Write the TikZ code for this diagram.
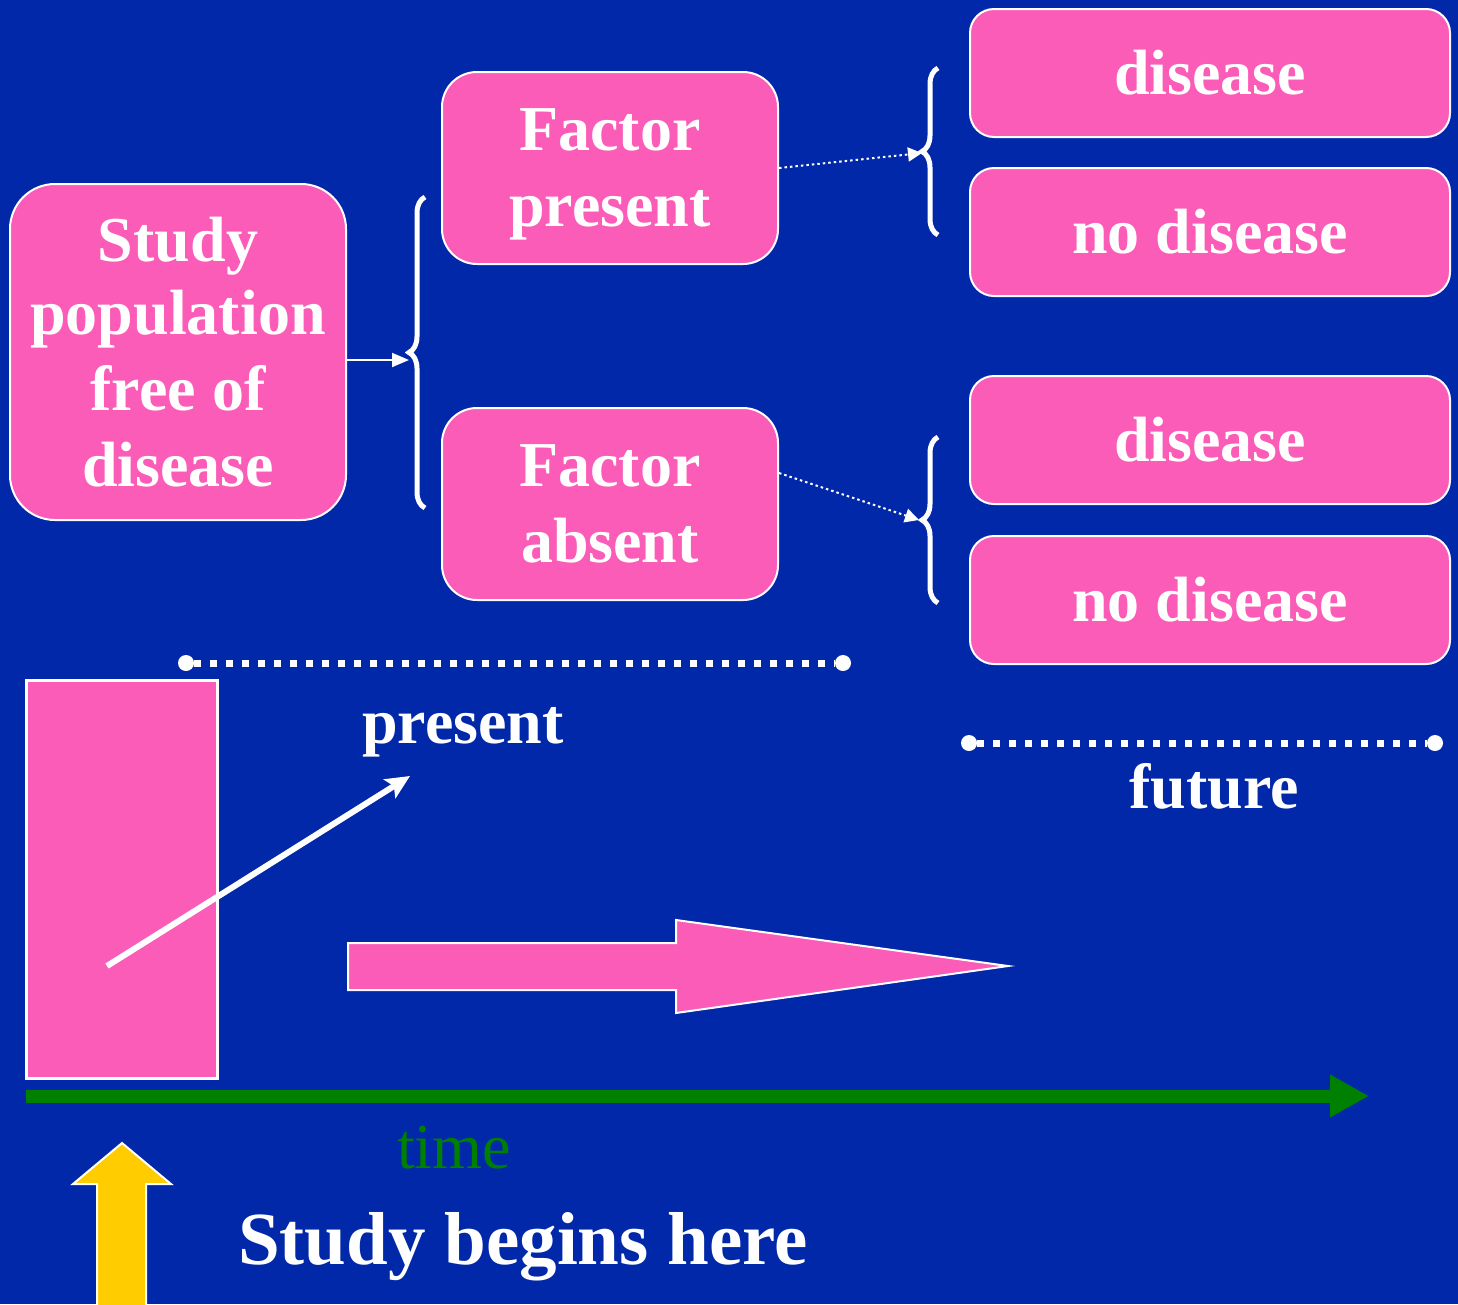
\documentclass[tikz,border=0pt]{standalone}
\usepackage{fontspec}
\setmainfont{Liberation Serif}
\usetikzlibrary{arrows.meta,decorations.pathreplacing,calc}
\definecolor{bgblue}{RGB}{0,40,168}
\definecolor{boxpink}{RGB}{250,92,183}
\definecolor{arrowyellow}{RGB}{255,204,0}
\definecolor{timegreen}{RGB}{0,128,0}
\begin{document}
\begin{tikzpicture}[x=1pt,y=-1pt,
  pinkbox/.style={draw=white, line width=2pt, fill=boxpink, text=white,
    font=\bfseries\fontsize{64}{76}\selectfont, align=center, inner sep=0pt},
  bracestyle/.style={draw=white, line width=5pt, decorate,
    decoration={brace, amplitude=16pt, aspect=0.5}},
  dotconn/.style={draw=white, line width=2pt, dash pattern=on 2.5pt off 3pt,
    -{Triangle[length=14pt,width=14pt]}},
  dotline/.style={draw=white, line width=7pt, dash pattern=on 7pt off 9pt},
  enddot/.style={circle, fill=white, minimum size=16pt, inner sep=0pt},
  lab/.style={text=white, font=\bfseries\fontsize{64}{76}\selectfont, inner sep=0pt, anchor=base}
]
\useasboundingbox (0,0) rectangle (1458,1304);
\fill[bgblue] (0,0) rectangle (1458,1304);

% boxes
\node[pinkbox, rounded corners=45pt, minimum width=336pt, minimum height=336pt] (sp) at (178,352) {\raisebox{-3pt}{Study}\\population\\free of\\disease};
\node[pinkbox, rounded corners=35pt, minimum width=336pt, minimum height=192pt, text depth=0pt] (fp) at (610,168) {Factor\\present};
\node[pinkbox, rounded corners=35pt, minimum width=336pt, minimum height=192pt] (fa) at (610,504) {Factor\\absent};
\node[pinkbox, rounded corners=24pt, minimum width=480pt, minimum height=128pt] (d1) at (1210,73) {disease};
\node[pinkbox, rounded corners=24pt, minimum width=480pt, minimum height=128pt] (n1) at (1210,232) {no disease};
\node[pinkbox, rounded corners=24pt, minimum width=480pt, minimum height=128pt] (d2) at (1210,440) {disease};
\node[pinkbox, rounded corners=24pt, minimum width=480pt, minimum height=128pt] (n2) at (1210,600) {no disease};

% braces
\draw[bracestyle] (425,508) -- (425,197);
\draw[bracestyle] (938,235) -- (938,68);
\draw[bracestyle] (938,603) -- (938,437);
\coordinate (b1tip) at (409,360);
\coordinate (b2tip) at (922,153);
\coordinate (b3tip) at (919,520);

% connectors
\draw[white, line width=2pt, -{Triangle[length=17pt,width=14pt]}] (sp.east |- b1tip) -- (b1tip);
\draw[dotconn] (fp.east) -- (b2tip);
\draw[dotconn] ([yshift=31pt]fa.east) -- (b3tip);

% timeline dotted lines
\node[enddot] (pa) at (186,663) {};
\node[enddot] (pb) at (843,663) {};
\draw[dotline] (pa) -- (pb);
\node[enddot] (fa1) at (969,743) {};
\node[enddot] (fb1) at (1435,743) {};
\draw[dotline] (fa1) -- (fb1);
\node[lab] (presentlab) at (463,743) {present};
\node[lab] (futurelab) at (1214,808) {future};

% population column
\draw[white, line width=3pt, fill=boxpink] (26,680) rectangle (217,1078);
\draw[white, line width=6pt, -{Stealth[length=24pt,width=22pt,inset=5pt]}] (107,966) -- (410,776);

% big pink arrow
\draw[white, line width=2pt, fill=boxpink, line join=miter]
  (348,943) -- (676,943) -- (676,920) -- (1008,966) -- (676,1013) -- (676,990) -- (348,990) -- cycle;

% time axis
\draw[timegreen, line width=13pt, -{Triangle[length=39pt,width=40pt]}] (26,1096) -- (1369,1096);
\node[text=timegreen, font=\fontsize{64}{76}\selectfont, inner sep=0pt, anchor=base] (timelab) at (454,1168) {time};

% yellow arrow
\draw[white, line width=2pt, fill=arrowyellow, line join=miter]
  (97,1306) -- (97,1184) -- (73,1184) -- (122,1143) -- (171,1184) -- (146,1184) -- (146,1306) -- cycle;
\node[text=white, font=\bfseries\fontsize{75}{90}\selectfont, inner sep=0pt, anchor=base west] (beginlab) at (238,1264) {Study begins here};
\end{tikzpicture}
\end{document}
